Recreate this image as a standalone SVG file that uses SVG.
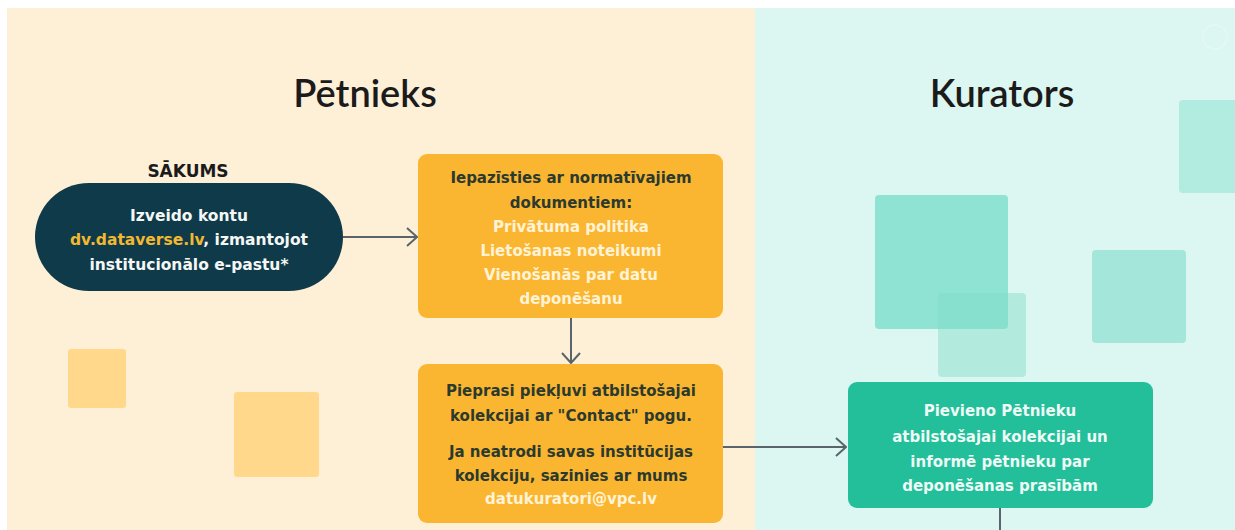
<svg xmlns="http://www.w3.org/2000/svg" width="1235" height="530" viewBox="0 0 1235 530">
<style>
.t{font-family:"DejaVu Sans","Open Sans",sans-serif;font-weight:700;text-anchor:middle}
.title{font-family:Lato,"Open Sans",sans-serif;font-size:38px;fill:#1b1b1b;font-weight:600}
.dk{font-size:15px;fill:#2c3a2e}
.lt{font-size:15px;fill:#fff3d6}
.wt{font-size:15px;fill:#effaf6}
.pl{font-size:15.5px;fill:#f5f7f5}
.conn{stroke:#59656b;stroke-width:2;fill:none}
</style>
<defs>
<marker id="ah" viewBox="0 0 12 20" refX="11" refY="10" markerWidth="12" markerHeight="20" markerUnits="userSpaceOnUse" orient="auto">
<path d="M1,1 L11,10 L1,19" fill="none" stroke="#59656b" stroke-width="2"/>
</marker>
</defs>
<rect x="0" y="0" width="1235" height="530" fill="#ffffff"/>
<rect x="7" y="8" width="748" height="522" fill="#fef0d7"/>
<rect x="755" y="8" width="480" height="522" fill="#dcf6f1"/>
<circle cx="1215" cy="37" r="12" fill="none" stroke="#e6f8f4" stroke-width="1.5"/>
<g id="decor">
<rect x="68" y="349" width="58" height="59" rx="3" fill="#ffd88c"/>
<rect x="234" y="392" width="85" height="85" rx="3" fill="#ffd88c"/>
<rect x="875" y="195" width="133" height="134" rx="4" fill="#8fe3d3"/>
<rect x="938" y="293" width="88" height="84" rx="4" fill="#7fdcc8" fill-opacity="0.45"/>
<rect x="1092" y="250" width="94" height="93" rx="4" fill="#a5e6da"/>
<rect x="1179" y="100" width="60" height="93" rx="4" fill="#b2ebdf"/>
</g>
<text class="title" x="365" y="107" text-anchor="middle">Pētnieks</text>
<text class="title" x="1002" y="107" text-anchor="middle">Kurators</text>
<g id="connectors">
<line class="conn" x1="343" y1="237" x2="417" y2="237" marker-end="url(#ah)"/>
<line class="conn" x1="571" y1="318" x2="571" y2="363" marker-end="url(#ah)"/>
<line class="conn" x1="723" y1="447" x2="846" y2="447" marker-end="url(#ah)"/>
<line class="conn" x1="1000" y1="508" x2="1000" y2="530"/>
</g>
<g id="start">
<text class="t" x="188" y="177" font-size="17" fill="#1b1b1b">SĀKUMS</text>
<rect x="35" y="183" width="308" height="108" rx="54" fill="#0f3a4a"/>
<text class="t pl" x="189" y="221">Izveido kontu</text>
<text class="t pl" x="189" y="245"><tspan fill="#f2b830">dv.dataverse.lv</tspan>, izmantojot</text>
<text class="t pl" x="189" y="270">institucionālo e-pastu*</text>
</g>
<g id="docs">
<rect x="418" y="154" width="305" height="164" rx="9" fill="#fbb631"/>
<text class="t dk" x="571" y="183">Iepazīsties ar normatīvajiem</text>
<text class="t dk" x="571" y="208">dokumentiem:</text>
<text class="t lt" x="571" y="232">Privātuma politika</text>
<text class="t lt" x="571" y="256">Lietošanas noteikumi</text>
<text class="t lt" x="571" y="280">Vienošanās par datu</text>
<text class="t lt" x="571" y="304">deponēšanu</text>
</g>
<g id="request">
<rect x="418" y="364" width="305" height="159" rx="9" fill="#fbb631"/>
<text class="t dk" x="571" y="396">Pieprasi piekļuvi atbilstošajai</text>
<text class="t dk" x="571" y="421">kolekcijai ar "Contact" pogu.</text>
<text class="t dk" x="571" y="457">Ja neatrodi savas institūcijas</text>
<text class="t dk" x="571" y="481">kolekciju, sazinies ar mums</text>
<text class="t lt" x="571" y="504">datukuratori@vpc.lv</text>
</g>
<g id="curator">
<rect x="848" y="382" width="305" height="126" rx="9" fill="#22bf9a"/>
<text class="t wt" x="1000" y="416">Pievieno Pētnieku</text>
<text class="t wt" x="1000" y="442">atbilstošajai kolekcijai un</text>
<text class="t wt" x="1000" y="467">informē pētnieku par</text>
<text class="t wt" x="1000" y="491">deponēšanas prasībām</text>
</g>
</svg>
